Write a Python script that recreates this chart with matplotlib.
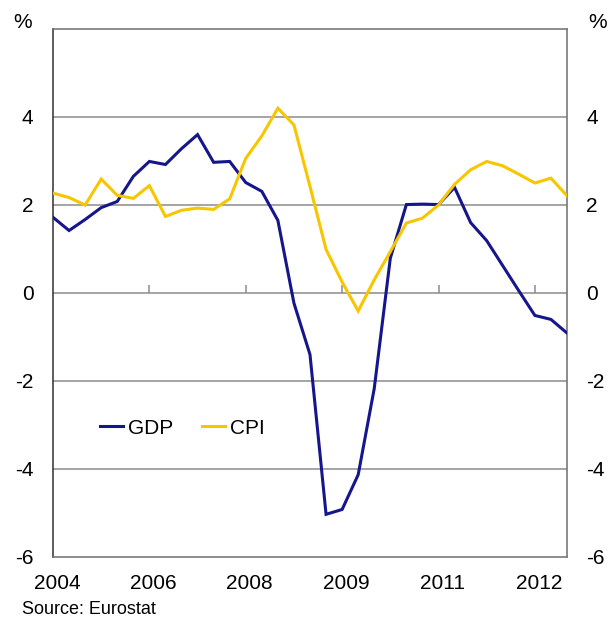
import matplotlib
matplotlib.use("Agg")
import matplotlib.pyplot as plt
import matplotlib.transforms as mtransforms

plt.rcParams['font.family'] = ['Liberation Sans', 'DejaVu Sans']

# Quarterly observations (index 0..32)
gdp = [1.72, 1.42, 1.67, 1.94, 2.08, 2.65, 2.99, 2.92, 3.28, 3.60,
       2.97, 2.99, 2.51, 2.31, 1.65, -0.23, -1.40, -5.03, -4.92, -4.13,
       -2.17, 0.79, 2.01, 2.02, 2.01, 2.40, 1.60, 1.19, 0.62, 0.05,
       -0.51, -0.60, -0.91]
cpi = [2.27, 2.17, 2.00, 2.59, 2.22, 2.15, 2.44, 1.74, 1.88, 1.93,
       1.90, 2.14, 3.06, 3.57, 4.20, 3.82, 2.42, 0.99, 0.25, -0.41,
       0.30, 0.94, 1.59, 1.70, 2.00, 2.47, 2.80, 2.99, 2.89, 2.70,
       2.50, 2.61, 2.21]
x_tick_pos = [0, 6, 12, 18, 24, 30]
x_tick_labels = ['2004', '2006', '2008', '2009', '2011', '2012']
y_ticks = [-6, -4, -2, 0, 2, 4]
y_grid = [-4, -2, 0, 2, 4]

gdp_color = '#16168C'
cpi_color = '#F7C600'
grid_color = '#8c8c8c'
fs = 15

fig = plt.figure(figsize=(6.09, 6.19), dpi=100)
ax = fig.add_axes([53/609, 1-557/619, 514/609, 528/619])

x = list(range(len(gdp)))
ax.plot(x, gdp, color=gdp_color, lw=2.2, label='GDP', zorder=3, solid_joinstyle='miter')
ax.plot(x, cpi, color=cpi_color, lw=2.2, label='CPI', zorder=3, solid_joinstyle='miter')

ax.set_xlim(0, len(gdp) - 1)
ax.set_ylim(-6, 6)

for g in y_grid:
    ax.axhline(g, color=grid_color, lw=1.1, zorder=1)

trans = mtransforms.blended_transform_factory(ax.transData, ax.transAxes)
ax.vlines(x_tick_pos[1:], 0.5, 0.5 + 8/528, color=grid_color, lw=1.1, transform=trans, zorder=1)

ax.set_xticks(x_tick_pos)
ax.set_xticklabels(x_tick_labels, fontsize=fs)
ax.tick_params(axis='x', length=0, pad=12)
offset = mtransforms.ScaledTranslation(4/100, 0, fig.dpi_scale_trans)
for lab in ax.get_xticklabels():
    lab.set_transform(lab.get_transform() + offset)

ax.set_yticks(y_ticks)
ax.set_yticklabels([str(v) for v in y_ticks], fontsize=fs)
ax.tick_params(axis='y', length=0, pad=14, labelleft=True, labelright=True)

for s in ['left', 'top', 'right', 'bottom']:
    ax.spines[s].set_color('#6e6e6e')
    ax.spines[s].set_linewidth(1.1)
ax.spines['left'].set_color('#303030')

ax.text(-0.041, 1.013, '%', transform=ax.transAxes, fontsize=fs, ha='right', va='center')
ax.text(1.041, 1.013, '%', transform=ax.transAxes, fontsize=fs, ha='left', va='center')

leg = ax.legend(loc='center left', bbox_to_anchor=(0.091, 0.244), ncol=2, frameon=False,
                fontsize=fs, handlelength=1.1, handletextpad=0.25, columnspacing=1.4,
                borderaxespad=0, borderpad=0)

fig.text(22/609, 1-609/619, 'Source: Eurostat', fontsize=13, ha='left', va='center')

fig.savefig('out.png', dpi=100)
